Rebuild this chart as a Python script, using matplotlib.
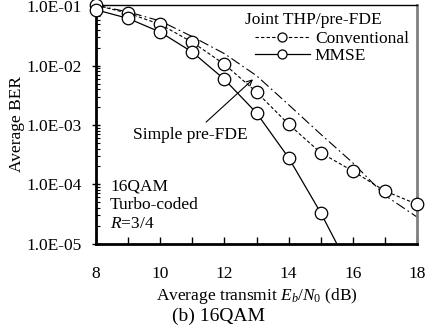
import matplotlib
matplotlib.use('Agg')
import matplotlib.pyplot as plt
from matplotlib.ticker import FixedLocator, LogLocator, FuncFormatter, NullFormatter
from matplotlib.lines import Line2D

plt.rcParams['font.family'] = ['Liberation Serif', 'DejaVu Serif']
plt.rcParams['mathtext.fontset'] = 'custom'
plt.rcParams['mathtext.rm'] = 'Liberation Serif'
plt.rcParams['mathtext.it'] = 'Liberation Serif:italic'
fs = 12.5

# data (Eb/N0 in dB, average BER)
snr = [8, 9, 10, 11, 12, 13, 14, 15, 16, 17, 18]
ber_conv = [0.105, 0.077, 0.050, 0.025, 0.0106, 0.0036, 0.00103, 3.4e-4, 1.67e-4, 7.7e-5, 4.6e-5]
snr_mmse = [8, 9, 10, 11, 12, 13, 14, 15, 16]
ber_mmse = [0.088, 0.063, 0.037, 0.017, 0.0059, 0.0016, 2.8e-4, 3.3e-5, 3.0e-6]
ber_simple = [0.105, 0.081, 0.057, 0.031, 0.016, 0.0068, 0.0022, 7.0e-4, 2.3e-4, 6.5e-5, 2.8e-5]

W, H = 428, 327
x0, x1, y0, y1 = 96, 417, 5, 243.5   # axes box in pixels

def ax_frac(px, py):
    return (px - x0) / (x1 - x0), (y1 - py) / (y1 - y0)

fig = plt.figure(figsize=(W / 100, H / 100), dpi=100)
ax = fig.add_axes([x0 / W, 1 - y1 / H, (x1 - x0) / W, (y1 - y0) / H])

mk = dict(marker='o', markersize=9, markerfacecolor='white', markeredgecolor='black',
          markeredgewidth=0.9, linestyle='none', clip_on=False, zorder=5)

ax.plot(snr, ber_simple, color='black', lw=0.8, linestyle=(0, (9, 3, 1.5, 3)))
ax.plot(snr, ber_conv, color='black', lw=0.8, linestyle=(0, (3, 2)))
ax.plot(snr, ber_conv, **mk)
ax.plot(snr_mmse, ber_mmse, color='black', lw=0.9)
ax.plot([s for s, b in zip(snr_mmse, ber_mmse) if b >= 1e-5],
        [b for b in ber_mmse if b >= 1e-5], **mk)

ax.set_yscale('log')
ax.set_xlim(8, 18)
ax.set_ylim(1e-5, 0.106)

ax.xaxis.set_major_locator(FixedLocator([8, 10, 12, 14, 16, 18]))
ax.xaxis.set_minor_locator(FixedLocator(list(range(8, 19))))
ax.tick_params(axis='x', which='both', direction='in', length=5, width=1, pad=16, labelsize=fs)
ax.yaxis.set_major_locator(LogLocator(base=10, numticks=10))
ax.yaxis.set_minor_locator(LogLocator(base=10, subs=range(2, 10), numticks=10))
ax.yaxis.set_minor_formatter(NullFormatter())
ax.yaxis.set_major_formatter(FuncFormatter(lambda v, p: '%.1E' % v))
ax.tick_params(axis='y', which='major', direction='inout', length=6, width=1, pad=7, labelsize=fs)
ax.tick_params(axis='y', which='minor', direction='in', length=3, width=0.8)

ax.spines['left'].set_linewidth(2)
ax.spines['bottom'].set_linewidth(2)
ax.spines['top'].set_linewidth(1)
ax.spines['right'].set_linewidth(2)
ax.spines['right'].set_color('#808080')

ax.set_xlabel('Average transmit $E_b$/$N_0$ (dB)', fontsize=fs, labelpad=3)
ax.set_ylabel('Average BER', fontsize=fs, labelpad=1)
fig.text(218 / W, 1 - 316 / H, '(b) 16QAM', ha='center', va='center', fontsize=fs + 1.5)

# legend: title as plain text, entries below it
tx, ty = ax_frac(245, 20)
ax.text(tx, ty, 'Joint THP/pre-FDE', transform=ax.transAxes, ha='left', va='center', fontsize=fs)
handles = [Line2D([], [], color='black', lw=0.8, linestyle=(0, (3, 2)), marker='o', markersize=6.5,
                  markerfacecolor='white', markeredgecolor='black', markeredgewidth=0.9),
           Line2D([], [], color='black', lw=0.9, marker='o', markersize=6.5,
                  markerfacecolor='white', markeredgecolor='black', markeredgewidth=0.9)]
lx, ly = ax_frac(255, 31)
ax.legend(handles, ['Conventional', 'MMSE'], loc='upper left', bbox_to_anchor=(lx, ly),
          frameon=False, fontsize=fs, handlelength=3.15, handletextpad=0.3,
          borderaxespad=0, borderpad=0, labelspacing=0.05)

# arrow and label for the simple pre-FDE curve
ax.annotate('', xy=(12.89, 5.9e-3), xytext=(11.43, 1.12e-3),
            arrowprops=dict(arrowstyle='->', color='black', lw=0.8, shrinkA=0, shrinkB=0))
ax.text(10.94, 10 ** -3.17, 'Simple pre-FDE', ha='center', va='center', fontsize=fs)

bx, by = ax_frac(110, 205)
ax.text(bx, by, '16QAM\nTurbo-coded\n$R$=3/4', transform=ax.transAxes, ha='left', va='center',
        fontsize=fs, linespacing=1.22)

fig.savefig('out.png', dpi=100)
